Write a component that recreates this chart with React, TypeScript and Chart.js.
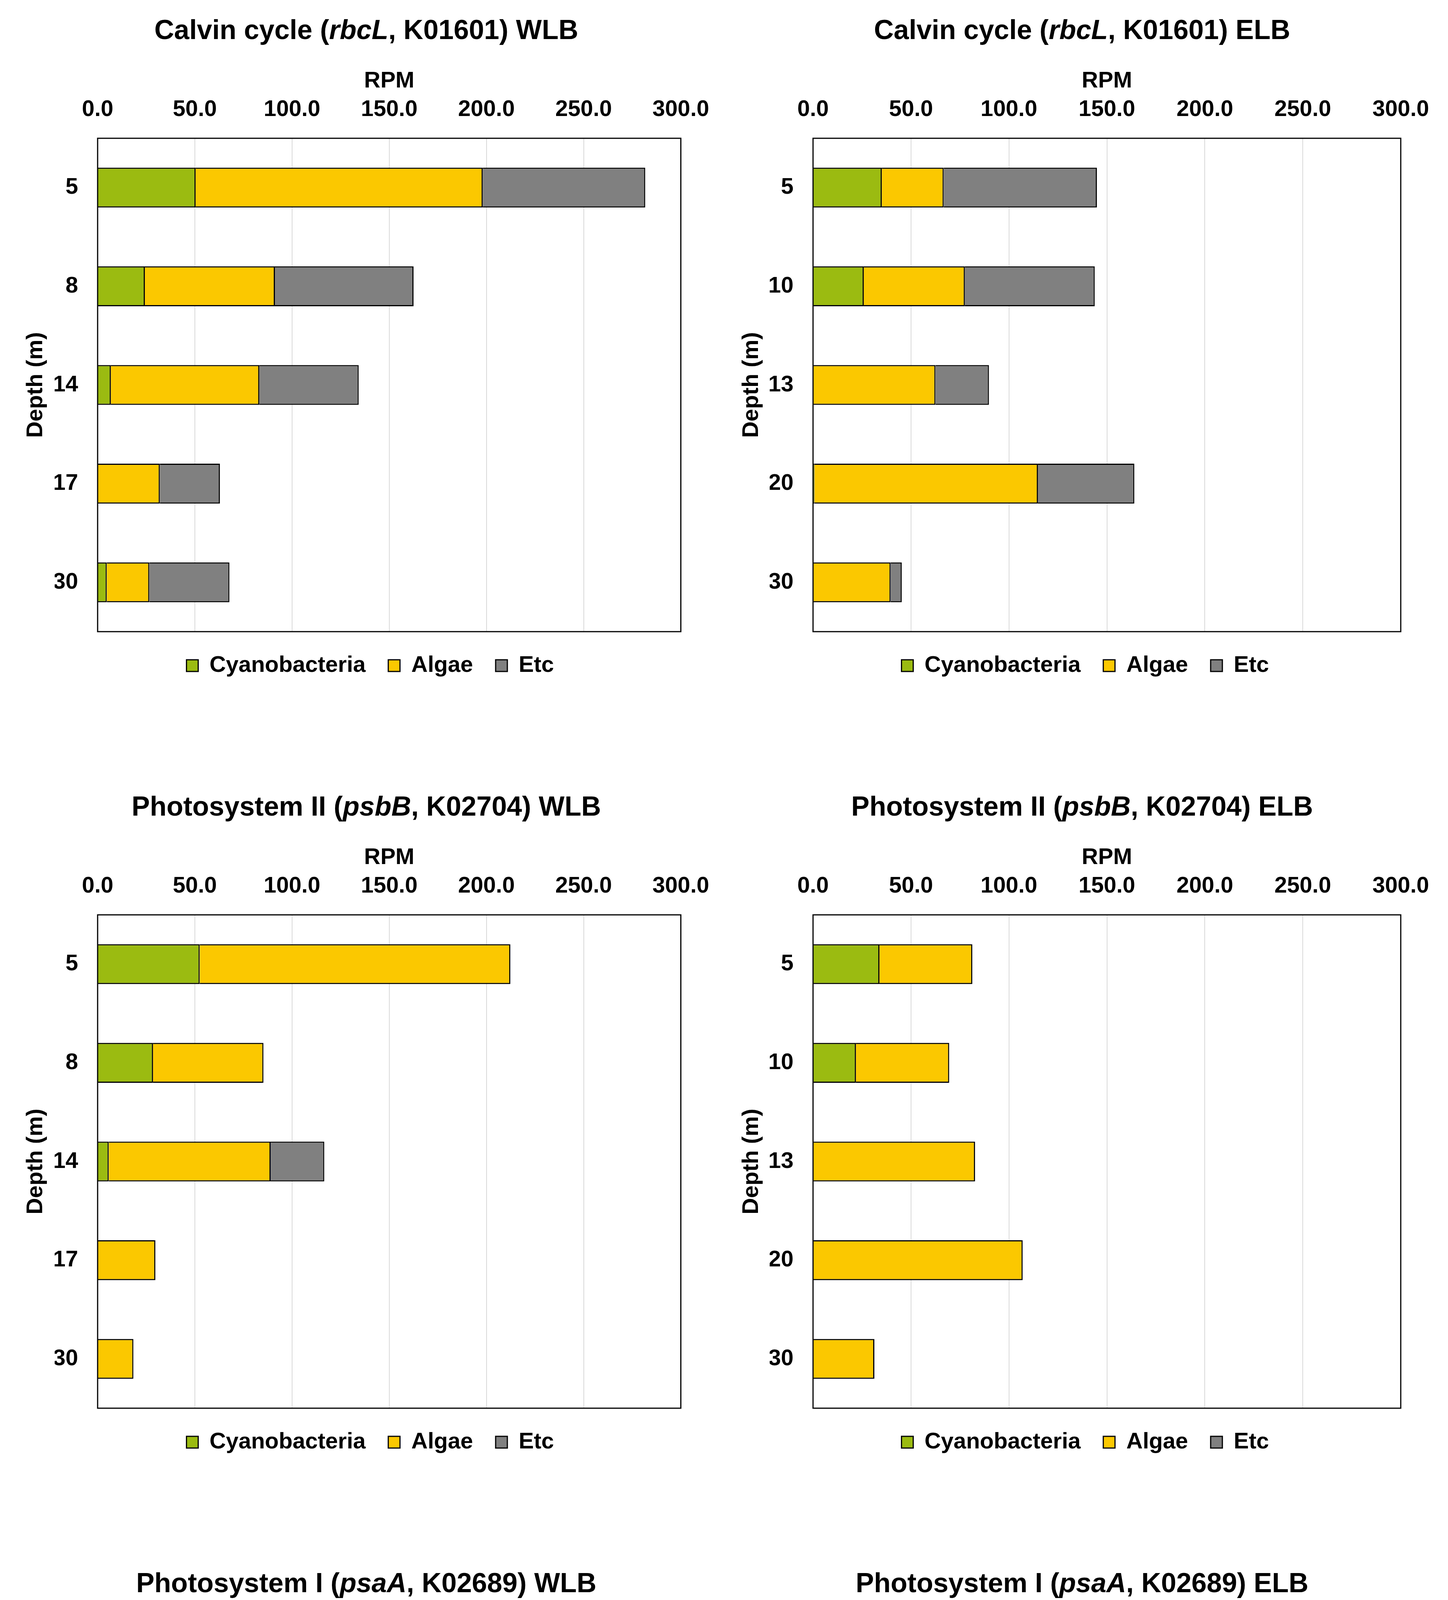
import React, { useEffect, useRef } from 'react';
import { Chart, registerables } from 'chart.js';

Chart.register(...registerables);

const FONT = '"Liberation Sans", Arial, Helvetica, sans-serif';
const CYANO_COLOR = '#9BBB11';
const ALGAE_COLOR = '#FBC800';
const ETC_COLOR = '#808080';

const seriesNames = ['Cyanobacteria', 'Algae', 'Etc'];
const rpmTicks = [0, 50, 100, 150, 200, 250, 300];
const depthWLB = ['5', '8', '14', '17', '30'];
const depthELB = ['5', '10', '13', '20', '30'];

// Calvin cycle (rbcL, K01601)
const calvinWLBCyano = [50.4, 24.3, 6.8, 0, 4.7];
const calvinWLBAlgae = [147.7, 66.9, 76.4, 32.0, 21.9];
const calvinWLBEtc = [83.6, 71.3, 51.1, 30.9, 41.2];
const calvinELBCyano = [35.1, 25.9, 0, 0.7, 0];
const calvinELBAlgae = [31.6, 51.6, 62.5, 114.1, 39.6];
const calvinELBEtc = [78.2, 66.3, 27.3, 49.2, 5.7];

// Photosystem II (psbB, K02704)
const psbWLBCyano = [52.5, 28.5, 5.7, 0, 0];
const psbWLBAlgae = [159.8, 56.8, 83.3, 29.7, 18.4];
const psbWLBEtc = [0, 0, 27.6, 0, 0];
const psbELBCyano = [33.9, 21.9, 0, 0, 0];
const psbELBAlgae = [47.4, 47.6, 82.7, 107.0, 31.3];
const psbELBEtc = [0, 0, 0, 0, 0];

// Photosystem I (psaA, K02689)
const psaWLBCyano = [44.8, 26.1, 5.2, 0, 1.9];
const psaWLBAlgae = [196.2, 56.6, 83.4, 36.5, 22.6];
const psaWLBEtc = [7.5, 3.3, 3.5, 0, 0];
const psaELBCyano = [32.8, 21.7, 3.1, 2.4, 0];
const psaELBAlgae = [50.4, 52.1, 72.8, 155.7, 54.7];
const psaELBEtc = [0, 0, 0, 11.8, 6.3];

const PAGE_W = 3708;
const PAGE_H = 5758;
const PANEL_W = 1854;
const PANEL_PITCH = 1988;
const CANVAS_H = 1743;

// left / right column geometry
const sideLayout = {
    left: { padL: 140, padR: 98, yWidth: 110, yTitlePad: -83, titleCx: 938 },
    right: { padL: 117, padR: 121, yWidth: 111, yTitlePad: -81, titleCx: 917 },
};

const plotBorder = {
    id: 'plotBorder',
    afterDatasetsDraw(chart: any) {
        const { ctx, chartArea } = chart;
        ctx.save();
        ctx.strokeStyle = '#000';
        ctx.lineWidth = 3;
        ctx.strokeRect(chartArea.left, chartArea.top, chartArea.right - chartArea.left, chartArea.bottom - chartArea.top);
        ctx.restore();
    },
};

interface PanelProps {
    pre: string;
    gene: string;
    post: string;
    labels: string[];
    cyano: number[];
    algae: number[];
    etc: number[];
    side: 'left' | 'right';
}

const Panel: React.FC<PanelProps> = ({ pre, gene, post, labels, cyano, algae, etc, side }) => {
    const chartRef = useRef<HTMLCanvasElement>(null);
    const chartInstance = useRef<Chart | null>(null);
    const geo = sideLayout[side];

    useEffect(() => {
        if (!chartRef.current) return;
        if (chartInstance.current) chartInstance.current.destroy();
        const ctx = chartRef.current.getContext('2d');
        if (!ctx) return;

        const tickFont = { family: FONT, size: 58, weight: 'bold' as const };
        const colors = [CYANO_COLOR, ALGAE_COLOR, ETC_COLOR];
        const values = [cyano, algae, etc];

        chartInstance.current = new Chart(ctx, {
            type: 'bar',
            data: {
                labels,
                datasets: seriesNames.map((name, i) => ({
                    label: name,
                    data: values[i],
                    backgroundColor: colors[i],
                    borderColor: '#000',
                    borderWidth: 3,
                    categoryPercentage: 1,
                    barPercentage: 0.404,
                })),
            },
            options: {
                indexAxis: 'y',
                responsive: true,
                maintainAspectRatio: false,
                animation: false,
                layout: { padding: { left: geo.padL, right: geo.padR, top: 130, bottom: 0 } },
                scales: {
                    x: {
                        type: 'linear',
                        position: 'top',
                        stacked: true,
                        min: 0,
                        max: 300,
                        afterBuildTicks: (scale: any) => {
                            scale.ticks = rpmTicks.map((v) => ({ value: v }));
                        },
                        afterFit: (scale: any) => {
                            scale.height = 354 - 130;
                        },
                        ticks: {
                            color: '#000',
                            font: tickFont,
                            padding: 38,
                            maxRotation: 0,
                            autoSkip: false,
                            callback: (v: any) => Number(v).toFixed(1),
                        },
                        grid: { color: '#d9d9d9', lineWidth: 2, drawTicks: false },
                        border: { display: false },
                        title: {
                            display: true,
                            text: 'RPM',
                            color: '#000',
                            font: tickFont,
                            padding: { top: 43, bottom: 0 },
                        },
                    },
                    y: {
                        stacked: true,
                        afterFit: (scale: any) => {
                            scale.width = geo.yWidth;
                        },
                        ticks: { color: '#000', font: tickFont, padding: 50 },
                        grid: { display: false, drawTicks: false },
                        border: { display: false },
                        title: {
                            display: true,
                            text: 'Depth (m)',
                            color: '#000',
                            font: tickFont,
                            padding: { top: geo.yTitlePad, bottom: 0 },
                        },
                    },
                },
                plugins: {
                    legend: {
                        position: 'bottom',
                        labels: {
                            color: '#000',
                            font: tickFont,
                            boxWidth: 30,
                            boxHeight: 30,
                            padding: 58,
                        },
                    },
                    title: { display: false },
                    tooltip: { enabled: false },
                },
            },
            plugins: [plotBorder],
        });

        return () => {
            if (chartInstance.current) {
                chartInstance.current.destroy();
                chartInstance.current = null;
            }
        };
    }, [labels, cyano, algae, etc, side]);

    return (
        <div style={{ position: 'relative', width: PANEL_W, height: PANEL_PITCH }}>
            <div style={{ position: 'absolute', left: 0, top: 0, width: PANEL_W, height: CANVAS_H }}>
                <canvas ref={chartRef}></canvas>
            </div>
            <div
                style={{
                    position: 'absolute',
                    top: 41,
                    left: geo.titleCx - PANEL_W / 2,
                    width: PANEL_W,
                    textAlign: 'center',
                    font: `bold 70px ${FONT}`,
                    lineHeight: '70px',
                    whiteSpace: 'nowrap',
                    color: '#000',
                }}
            >
                {pre}
                <i>{gene}</i>
                {post}
            </div>
        </div>
    );
};

export default function App() {
    useEffect(() => {
        document.body.style.margin = '0';
        document.body.style.background = '#fff';
    }, []);

    const panels: PanelProps[] = [
        { pre: 'Calvin cycle (', gene: 'rbcL', post: ', K01601) WLB', labels: depthWLB, cyano: calvinWLBCyano, algae: calvinWLBAlgae, etc: calvinWLBEtc, side: 'left' },
        { pre: 'Calvin cycle (', gene: 'rbcL', post: ', K01601) ELB', labels: depthELB, cyano: calvinELBCyano, algae: calvinELBAlgae, etc: calvinELBEtc, side: 'right' },
        { pre: 'Photosystem II (', gene: 'psbB', post: ', K02704) WLB', labels: depthWLB, cyano: psbWLBCyano, algae: psbWLBAlgae, etc: psbWLBEtc, side: 'left' },
        { pre: 'Photosystem II (', gene: 'psbB', post: ', K02704) ELB', labels: depthELB, cyano: psbELBCyano, algae: psbELBAlgae, etc: psbELBEtc, side: 'right' },
        { pre: 'Photosystem I (', gene: 'psaA', post: ', K02689) WLB', labels: depthWLB, cyano: psaWLBCyano, algae: psaWLBAlgae, etc: psaWLBEtc, side: 'left' },
        { pre: 'Photosystem I (', gene: 'psaA', post: ', K02689) ELB', labels: depthELB, cyano: psaELBCyano, algae: psaELBAlgae, etc: psaELBEtc, side: 'right' },
    ];

    return (
        <div style={{ position: 'relative', width: PAGE_W, height: PAGE_H, overflow: 'hidden', background: '#fff' }}>
            {panels.map((p, i) => (
                <div
                    key={i}
                    style={{ position: 'absolute', left: p.side === 'left' ? 0 : PANEL_W, top: Math.floor(i / 2) * PANEL_PITCH }}
                >
                    <Panel {...p} />
                </div>
            ))}
        </div>
    );
}
